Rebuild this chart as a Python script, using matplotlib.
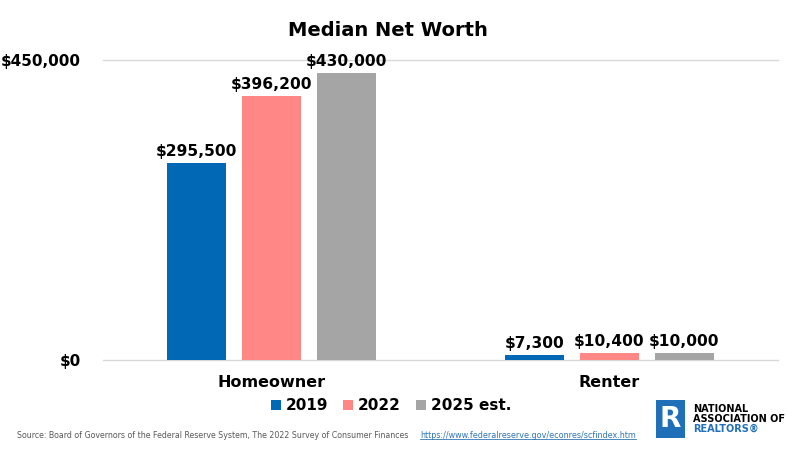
import matplotlib
matplotlib.use("Agg")
import matplotlib.pyplot as plt
import numpy as np
from matplotlib.patches import Rectangle
from matplotlib.lines import Line2D

categories = ["Homeowner", "Renter"]
series_names = ["2019", "2022", "2025 est."]
values_2019 = [295500, 7300]
values_2022 = [396200, 10400]
values_2025 = [430000, 10000]
ytick_values = [0, 450000]
ytick_labels = ["$0", "$450,000"]

colors = ["#0068B5", "#FF8886", "#A5A5A5"]
FONT = "DejaVu Sans"

fig = plt.figure(figsize=(7.98, 4.5), dpi=100)
ax = fig.add_axes([103/798, 1-360/450, 675/798, 300/450])

x = np.arange(len(categories))
width = 0.175
offset = 0.222
all_series = [values_2019, values_2022, values_2025]
for i, (vals, name, c) in enumerate(zip(all_series, series_names, colors)):
    pos = x + (i - 1) * offset
    ax.bar(pos, vals, width=width, color=c, label=name, zorder=3)
    for p, v in zip(pos, vals):
        ax.text(p, v + 6000, f"${v:,.0f}", ha="center", va="bottom",
                fontsize=11.2, fontweight="bold", family=FONT, color="black")

ax.set_xlim(-0.5, 1.5)
ax.set_ylim(0, 450000)
ax.set_yticks(ytick_values)
ax.set_yticklabels(ytick_labels, fontsize=11, fontweight="bold", family=FONT)
ax.set_xticks(x)
ax.set_xticklabels(categories, fontsize=11.5, fontweight="bold", family=FONT)
ax.tick_params(axis="x", length=0, pad=11)
ax.tick_params(axis="y", length=0, pad=16)
ax.grid(axis="y", color="#D9D9D9", linewidth=1, zorder=0)
for gl in ax.get_ygridlines():
    gl.set_clip_on(False)
for s in ["top", "right", "left", "bottom"]:
    ax.spines[s].set_visible(False)

fig.text(388/798, 1-30/450, "Median Net Worth", ha="center", va="center",
         fontsize=14, fontweight="bold", family=FONT)

fig.legend(loc="center", bbox_to_anchor=(391/798, 1-406/450), ncol=3,
           frameon=False, prop={"family": FONT, "weight": "bold", "size": 11},
           handlelength=0.65, handleheight=0.65, handletextpad=0.3, columnspacing=1.0)

fig.text(17/798, 1-435/450,
         "Source: Board of Governors of the Federal Reserve System, The 2022 Survey of Consumer Finances",
         ha="left", va="center", fontsize=5.7, color="#595959", family=FONT)
url = fig.text(420/798, 1-435/450,
               "https://www.federalreserve.gov/econres/scfindex.htm",
               ha="left", va="center", fontsize=5.8, color="#2E75B6", family=FONT)
fig.canvas.draw()
bb = url.get_window_extent().transformed(fig.transFigure.inverted())
fig.lines.append(Line2D([bb.x0, bb.x1], [bb.y0 + 0.002, bb.y0 + 0.002],
                        transform=fig.transFigure, color="#2E75B6", linewidth=0.6))

# logo
logo = Rectangle((656/798, 1-438/450), 29/798, 38/450, transform=fig.transFigure,
                 facecolor="#1F6FB9", edgecolor="none")
fig.patches.append(logo)
fig.text(670.5/798, 1-419/450, "R", ha="center", va="center", fontsize=20,
         fontweight="bold", color="white", family=FONT)
fig.text(693/798, 1-409/450, "NATIONAL", ha="left", va="center", fontsize=7,
         fontweight="bold", color="black", family=FONT)
fig.text(693/798, 1-419/450, "ASSOCIATION OF", ha="left", va="center", fontsize=7,
         fontweight="bold", color="black", family=FONT)
fig.text(693/798, 1-429/450, "REALTORS®", ha="left", va="center", fontsize=7,
         fontweight="bold", color="#1F6FB9", family=FONT)

fig.savefig("out.png", dpi=100)
